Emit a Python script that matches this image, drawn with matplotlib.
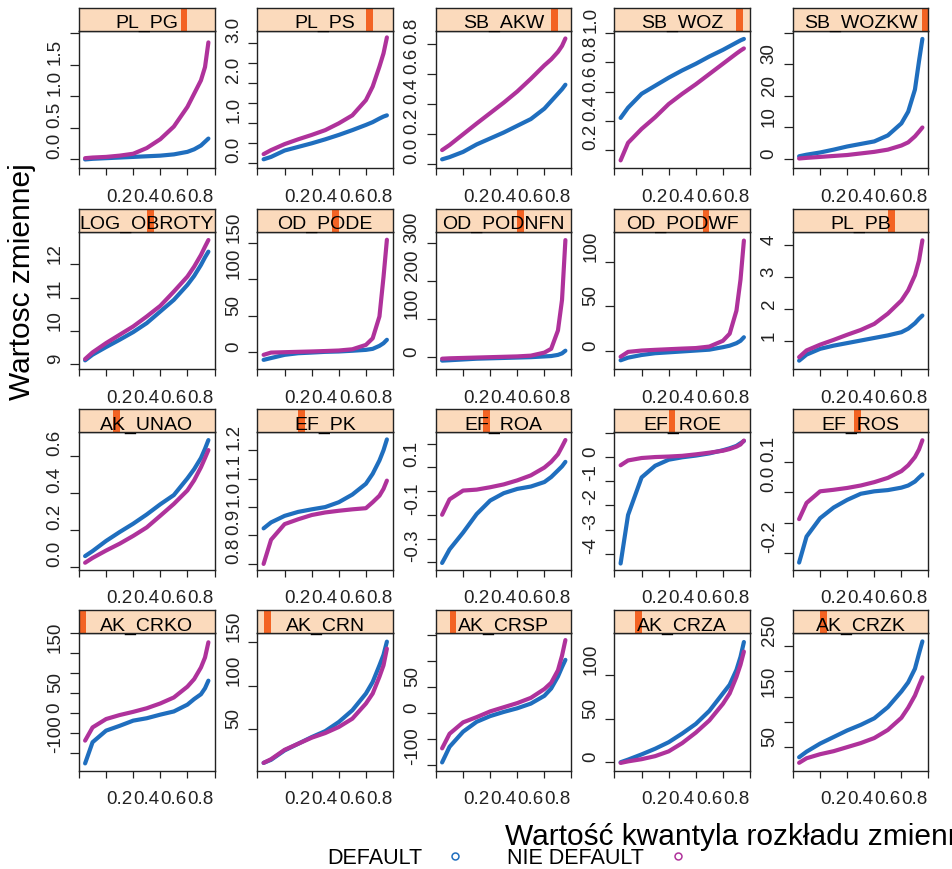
import matplotlib

matplotlib.use("Agg")
import matplotlib.pyplot as plt  # noqa: E402

plt.rcParams["font.family"] = ["Liberation Sans", "DejaVu Sans"]

Q = [0.045, 0.1, 0.2, 0.3, 0.4, 0.5, 0.6, 0.7, 0.8, 0.85, 0.9, 0.93, 0.955]

# rows top -> bottom, as in the lattice layout
ROWS = [
    ["PL_PG", "PL_PS", "SB_AKW", "SB_WOZ", "SB_WOZKW"],
    ["LOG_OBROTY", "OD_PODE", "OD_PODNFN", "OD_PODWF", "PL_PB"],
    ["AK_UNAO", "EF_PK", "EF_ROA", "EF_ROE", "EF_ROS"],
    ["AK_CRKO", "AK_CRN", "AK_CRSP", "AK_CRZA", "AK_CRZK"],
]

# DEFAULT / NIE DEFAULT quantiles per variable
PL_PG_DEF = [0.0, 0.01, 0.02, 0.03, 0.04, 0.05, 0.06, 0.08, 0.12, 0.16, 0.22, 0.28, 0.33]
PL_PG_NIE = [0.02, 0.03, 0.04, 0.06, 0.09, 0.18, 0.32, 0.52, 0.83, 1.04, 1.25, 1.46, 1.85]
PL_PS_DEF = [0.10, 0.16, 0.32, 0.41, 0.50, 0.60, 0.71, 0.83, 0.96, 1.03, 1.12, 1.17, 1.20]
PL_PS_NIE = [0.23, 0.33, 0.48, 0.60, 0.71, 0.83, 1.00, 1.20, 1.58, 1.92, 2.42, 2.75, 3.15]
SB_AKW_DEF = [0.03, 0.045, 0.08, 0.13, 0.17, 0.21, 0.255, 0.30, 0.37, 0.42, 0.47, 0.50, 0.53]
SB_AKW_NIE = [0.092, 0.126, 0.198, 0.27, 0.34, 0.41, 0.485, 0.57, 0.66, 0.70, 0.75, 0.79, 0.84]
SB_WOZ_DEF = [0.42, 0.49, 0.585, 0.64, 0.695, 0.745, 0.79, 0.84, 0.885, 0.91, 0.935, 0.95, 0.96]
SB_WOZ_NIE = [0.13, 0.25, 0.345, 0.425, 0.515, 0.585, 0.65, 0.72, 0.79, 0.825, 0.86, 0.88, 0.895]
SB_WOZKW_DEF = [0.9, 1.4, 2.1, 3.0, 4.0, 4.8, 5.6, 7.5, 11.3, 15, 22, 31, 38]
SB_WOZKW_NIE = [0.2, 0.4, 0.7, 1.0, 1.3, 1.8, 2.3, 3.0, 4.3, 5.3, 7.2, 8.7, 10]
LOG_OBROTY_DEF = [9.11, 9.28, 9.51, 9.73, 9.96, 10.23, 10.58, 10.93, 11.38, 11.65, 11.98, 12.21, 12.38]
LOG_OBROTY_NIE = [9.15, 9.35, 9.63, 9.88, 10.13, 10.43, 10.75, 11.18, 11.63, 11.93, 12.28, 12.53, 12.73]
OD_PODE_DEF = [-10.5, -8, -3.6, -1.4, -0.5, 0.5, 1, 2, 3.2, 4.6, 8.7, 12.3, 17]
OD_PODE_NIE = [-3.6, -0.5, 0, 0.5, 1, 1.6, 2.3, 4, 10, 19, 49, 103, 154]
OD_PODNFN_DEF = [-9, -8, -6, -4, -3, -2, -1, 0, 2, 3, 6, 10, 17]
OD_PODNFN_NIE = [-4, -3, -2, -1, 0, 1, 2, 4, 12, 22, 70, 150, 307]
OD_PODWF_DEF = [-11, -8, -5, -3, -2, -1, 0, 1, 3.8, 5.5, 8.3, 11, 15]
OD_PODWF_NIE = [-7, -1.5, 0, 0.8, 1.5, 2.2, 2.8, 4.5, 11, 19, 45, 80, 124]
PL_PB_DEF = [0.37, 0.56, 0.74, 0.84, 0.92, 1.0, 1.08, 1.16, 1.26, 1.37, 1.54, 1.68, 1.78]
PL_PB_NIE = [0.48, 0.69, 0.87, 1.02, 1.18, 1.33, 1.52, 1.84, 2.25, 2.57, 3.04, 3.5, 4.13]
AK_UNAO_DEF = [0.06, 0.087, 0.142, 0.19, 0.235, 0.285, 0.34, 0.39, 0.48, 0.53, 0.59, 0.64, 0.687]
AK_UNAO_NIE = [0.024, 0.05, 0.09, 0.127, 0.169, 0.215, 0.278, 0.342, 0.415, 0.47, 0.54, 0.59, 0.633]
EF_PK_DEF = [0.925, 0.946, 0.969, 0.983, 0.992, 1.0, 1.017, 1.044, 1.082, 1.117, 1.164, 1.2, 1.238]
EF_PK_NIE = [0.80, 0.885, 0.94, 0.957, 0.972, 0.981, 0.987, 0.992, 0.996, 1.017, 1.04, 1.064, 1.093]
EF_ROA_DEF = [-0.303, -0.246, -0.175, -0.097, -0.04, -0.009, 0.009, 0.019, 0.038, 0.059, 0.087, 0.104, 0.123]
EF_ROA_NIE = [-0.1, -0.035, 0.002, 0.006, 0.016, 0.028, 0.045, 0.066, 0.099, 0.123, 0.155, 0.187, 0.215]
EF_ROE_DEF = [-4.4, -2.4, -0.85, -0.37, -0.12, -0.02, 0.05, 0.14, 0.27, 0.35, 0.45, 0.56, 0.65]
EF_ROE_NIE = [-0.35, -0.15, -0.05, -0.01, 0.01, 0.04, 0.1, 0.17, 0.25, 0.32, 0.42, 0.51, 0.67]
EF_ROS_DEF = [-0.23, -0.145, -0.085, -0.05, -0.025, -0.005, 0.003, 0.007, 0.015, 0.022, 0.035, 0.048, 0.058]
EF_ROS_NIE = [-0.088, -0.035, 0.003, 0.008, 0.014, 0.022, 0.033, 0.047, 0.069, 0.088, 0.115, 0.14, 0.17]
AK_CRKO_DEF = [-125, -72, -43, -31, -18, -12, -3, 5, 22, 36, 48, 63, 82]
AK_CRKO_NIE = [-68, -35, -14, -4, 4, 13, 25, 40, 67, 86, 115, 140, 178]
AK_CRN_DEF = [11.8, 15.3, 26, 33.6, 41.2, 48, 58.4, 71.8, 90.8, 104, 123, 135, 150]
AK_CRN_NIE = [11.8, 16, 26.7, 33.6, 40.5, 45.8, 52.7, 62.2, 79.4, 90.8, 110, 123, 142]
AK_CRSP_DEF = [-95, -65, -36, -17, -6, 2, 9, 18, 33, 47, 70, 88, 102]
AK_CRSP_NIE = [-68, -40, -18, -8, 3, 11, 19, 29, 46, 58, 82, 110, 140]
AK_CRZA_DEF = [0, 3, 9, 15.5, 23, 33, 44, 59, 79, 89, 106, 121, 138]
AK_CRZA_NIE = [-0.8, 1, 3.5, 7, 12.5, 22, 34, 48, 67, 79, 98, 112, 127]
AK_CRZK_DEF = [30, 41, 57, 70, 83, 94, 107, 129, 160, 178, 205, 235, 259]
AK_CRZK_NIE = [19, 28, 36, 42, 50, 58, 68, 84, 108, 128, 152, 172, 188]

# y ticks and the labels that survived in the original ("" = tick without label)
YTICKS = {
    "PL_PG": ([0, 0.5, 1, 1.5, 2], ["0.0", "0.5", "1.0", "1.5", ""]),
    "PL_PS": ([0, 0.5, 1, 1.5, 2, 2.5, 3], ["0.0", "", "1.0", "", "2.0", "", "3.0"]),
    "SB_AKW": ([0, 0.2, 0.4, 0.6, 0.8], ["0.0", "0.2", "0.4", "0.6", "0.8"]),
    "SB_WOZ": ([0.2, 0.4, 0.6, 0.8, 1.0], ["0.2", "0.4", "0.6", "0.8", "1.0"]),
    "SB_WOZKW": ([0, 10, 20, 30, 40], ["0", "10", "20", "30", ""]),
    "LOG_OBROTY": ([9, 10, 11, 12], ["9", "10", "11", "12"]),
    "OD_PODE": ([0, 50, 100, 150], ["0", "50", "100", "150"]),
    "OD_PODNFN": ([0, 100, 200, 300], ["0", "100", "200", "300"]),
    "OD_PODWF": ([0, 50, 100], ["0", "50", "100"]),
    "PL_PB": ([1, 2, 3, 4], ["1", "2", "3", "4"]),
    "AK_UNAO": ([0, 0.2, 0.4, 0.6], ["0.0", "0.2", "0.4", "0.6"]),
    "EF_PK": ([0.8, 0.9, 1.0, 1.1, 1.2], ["0.8", "0.9", "1.0", "1.1", "1.2"]),
    "EF_ROA": ([-0.3, -0.2, -0.1, 0, 0.1, 0.2], ["-0.3", "", "-0.1", "", "0.1", ""]),
    "EF_ROE": ([-4, -3, -2, -1, 0, 1], ["-4", "-3", "-2", "-1", "0", ""]),
    "EF_ROS": ([-0.2, -0.1, 0.0, 0.1], ["-0.2", "", "0.0", "0.1"]),
    "AK_CRKO": ([-100, -50, 0, 50, 100, 150, 200], ["-100", "", "0", "50", "", "150", ""]),
    "AK_CRN": ([50, 100, 150], ["50", "100", "150"]),
    "AK_CRSP": ([-100, -50, 0, 50, 100, 150], ["-100", "", "0", "50", "", ""]),
    "AK_CRZA": ([0, 50, 100], ["0", "50", "100"]),
    "AK_CRZK": ([50, 100, 150, 200, 250], ["50", "", "150", "", "250"]),
}

YLIM = {
    "PL_PG": (-0.14, 2.03), "PL_PS": (-0.125, 3.31), "SB_AKW": (-0.03, 0.89),
    "SB_WOZ": (0.076, 1.014), "SB_WOZKW": (-2.9, 40.5),
    "LOG_OBROTY": (8.85, 12.98), "OD_PODE": (-23, 165), "OD_PODNFN": (-31, 329),
    "OD_PODWF": (-20.8, 134), "PL_PB": (0.11, 4.4),
    "AK_UNAO": (-0.013, 0.729), "EF_PK": (0.78, 1.263), "EF_ROA": (-0.331, 0.2475),
    "EF_ROE": (-4.65, 1.01), "EF_ROS": (-0.253, 0.196),
    "AK_CRKO": (-143, 200.5), "AK_CRN": (3, 159.5), "AK_CRSP": (-110.7, 153),
    "AK_CRZA": (-9.6, 148), "AK_CRZK": (3.6, 275),
}

XTICKS = [0, 0.2, 0.4, 0.6, 0.8, 1.0]
XLABELS = ["", "0.2", "0.4", "0.6", "0.8", ""]

GROUPS = ["DEFAULT", "NIE DEFAULT"]
C_DEF = "#1F6EBE"
C_NIE = "#AF329B"
STRIP_BG = "#FBDABC"
STRIP_BAR = "#F36323"

W, H = 953, 869
COL_LEFT = [79, 257.5, 436, 614.5, 793]
ROW_TOP = [31, 231.7, 432.3, 633.3]
PW, PH, SH = 135.5, 137.3, 23


def box(x0, y0, w, h):
    return [x0 / W, 1 - (y0 + h) / H, w / W, h / H]


series = {name: (globals()[name + "_DEF"], globals()[name + "_NIE"]) for row in ROWS for name in row}
levels = sorted(series)

fig = plt.figure(figsize=(W / 100, H / 100), dpi=100)

for r, row in enumerate(ROWS):
    for c, name in enumerate(row):
        x0, y0 = COL_LEFT[c], ROW_TOP[r]
        ax = fig.add_axes(box(x0, y0, PW, PH))
        d, n = series[name]
        ax.plot(Q, d, color=C_DEF, lw=3.0, solid_capstyle="round")
        ax.plot(Q, n, color=C_NIE, lw=3.0, solid_capstyle="round")
        ax.set_xlim(0, 1)
        ax.set_ylim(*YLIM[name])
        ax.set_xticks(XTICKS)
        ax.set_xticklabels(XLABELS, ha="left", fontsize=13.5)
        yt, yl = YTICKS[name]
        ax.set_yticks(yt)
        ax.set_yticklabels(yl, rotation=90, va="bottom", ha="right", fontsize=13.5)
        ax.tick_params(axis="x", direction="out", length=5, width=0.9, pad=10, colors="#222222")
        ax.tick_params(axis="y", direction="out", length=6.5, width=0.9, pad=4.5, colors="#222222")
        for sp in ax.spines.values():
            sp.set_color("#222222")
            sp.set_linewidth(1.0)

        # strip with the level indicator bar
        sax = fig.add_axes(box(x0, y0 - SH, PW, SH))
        sax.set_facecolor(STRIP_BG)
        i = levels.index(name)
        sax.axvspan(i / len(levels), (i + 1) / len(levels), color=STRIP_BAR, lw=0)
        sax.set_xlim(0, 1)
        sax.set_ylim(0, 1)
        sax.set_xticks([])
        sax.set_yticks([])
        for sp in sax.spines.values():
            sp.set_color("#222222")
            sp.set_linewidth(1.0)
        sax.text(0.5, 0.12, name, ha="center", va="baseline", fontsize=14, color="black")

# axis titles (rendered starting at the layout centre, as in the original)
fig.text(30 / W, 1 - 400 / H, "Wartosc zmiennej", rotation=90, rotation_mode="anchor",
         ha="left", va="baseline", fontsize=21.5)
fig.text(505 / W, 1 - 845 / H, "Wartość kwantyla rozkładu zmiennej", ha="left", va="baseline",
         fontsize=21.5)

# key
kax = fig.add_axes([0, 0, 1, 1])
kax.set_xlim(0, W)
kax.set_ylim(H, 0)
kax.axis("off")
for label, col, tx, mx in ((GROUPS[0], C_DEF, 327, 455), (GROUPS[1], C_NIE, 507, 678)):
    kax.text(tx, 864, label, ha="left", va="baseline", fontsize=15.5)
    kax.plot([mx], [856], "o", ms=5, mfc="none", mec=col, mew=1.1)

fig.savefig("out.png", dpi=100)
